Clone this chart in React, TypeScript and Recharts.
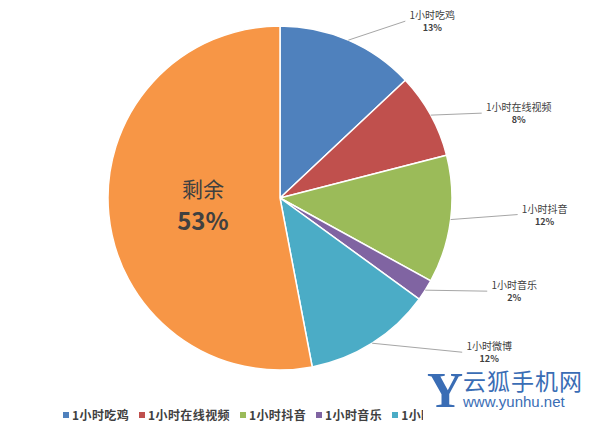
import React from "react";
import { PieChart, Pie, Cell, Legend } from "recharts";

const names = ["1小时吃鸡", "1小时在线视频", "1小时抖音", "1小时音乐", "1小时微博", "剩余"];
const values = [13, 8, 12, 2, 12, 53];
const COLORS = ["#4F81BD", "#C0504D", "#9BBB59", "#8064A2", "#4BACC6", "#F79646"];

// leader line offsets (from the arc midpoint), Excel-style manual placement
const labelOffsets = [
  [57, -19],
  [51, -2],
  [67, -5],
  [62, 1],
  [90, 9],
];

const data = names.map((n, i) => ({ name: n, value: values[i] }));

const RAD = Math.PI / 180;
const FONT = "'Noto Sans CJK SC', 'Noto Sans', sans-serif";

function renderLabel(props: any) {
  const { cx, cy, midAngle, outerRadius, index, name, value } = props;
  const cos = Math.cos(-midAngle * RAD);
  const sin = Math.sin(-midAngle * RAD);
  if (index === names.length - 1) {
    const r = outerRadius * 0.45;
    const x = cx + r * cos;
    const y = cy + r * sin;
    return (
      <g>
        <text x={x} y={y - 8} textAnchor="middle" fontSize={21} fill="#404040" fontFamily={FONT}>
          {name}
        </text>
        <text x={x} y={y + 25} textAnchor="middle" fontSize={24} fontWeight="bold" fill="#404040" fontFamily={FONT}>
          {value}%
        </text>
      </g>
    );
  }
  const sx = cx + outerRadius * cos;
  const sy = cy + outerRadius * sin;
  const [dx, dy] = labelOffsets[index];
  const ex = sx + dx;
  const ey = sy + dy;
  const w = 10 * (name.length - 1) + 6;
  const tx = ex + 4 + w / 2;
  return (
    <g>
      <path d={`M${sx},${sy}L${ex},${ey}`} stroke="#A6A6A6" strokeWidth={1} fill="none" />
      <text x={tx} y={ey - 2} textAnchor="middle" fontSize={10} fill="#404040" fontFamily={FONT}>
        {name}
      </text>
      <text x={tx} y={ey + 10} textAnchor="middle" fontSize={9} fontWeight="bold" fill="#404040" fontFamily={FONT}>
        {value}%
      </text>
    </g>
  );
}

function renderLegend() {
  return (
    <div style={{ width: 360, overflow: "hidden" }}>
      <div style={{ display: "flex", fontFamily: FONT, fontSize: 12, fontWeight: "bold", color: "#404040", whiteSpace: "nowrap", letterSpacing: 0.4 }}>
        {names.slice(0, 5).map((n, i) => (
          <span key={n} style={{ display: "flex", alignItems: "center", marginRight: 10 }}>
            <span style={{ display: "inline-block", width: 6, height: 6, background: COLORS[i], marginRight: 3 }} />
            {n}
          </span>
        ))}
      </div>
    </div>
  );
}

export default function App() {
  return (
    <div style={{ position: "absolute", left: 0, top: 0, width: 600, height: 425, background: "#fff", overflow: "hidden" }}>
      <PieChart width={600} height={425}>
        <Pie
          data={data}
          dataKey="value"
          nameKey="name"
          cx={275}
          cy={193}
          outerRadius={172}
          startAngle={90}
          endAngle={-270}
          stroke="#fff"
          strokeWidth={1.5}
          label={renderLabel}
          labelLine={false}
          isAnimationActive={false}
        >
          {data.map((_, i) => (
            <Cell key={i} fill={COLORS[i]} />
          ))}
        </Pie>
        <Legend content={renderLegend} wrapperStyle={{ left: 63, top: 406, width: 360 }} />
      </PieChart>
      <div style={{ position: "absolute", left: 423, top: 367, width: 177, height: 58, background: "#fff" }}>
        <div style={{ position: "absolute", left: 4, top: -2, fontFamily: "'Liberation Serif', serif", fontWeight: "bold", fontSize: 50, lineHeight: "50px", color: "#3A6DB5" }}>
          Y
        </div>
        <div style={{ position: "absolute", left: 40, top: 0, fontFamily: FONT, fontSize: 23, lineHeight: "26px", color: "#3A6DB5", letterSpacing: 1 }}>
          云狐手机网
        </div>
        <div style={{ position: "absolute", left: 40, top: 26, fontFamily: "'Liberation Sans', Arial, sans-serif", fontSize: 15, lineHeight: "18px", color: "#3A6DB5" }}>
          www.yunhu.net
        </div>
      </div>
    </div>
  );
}
